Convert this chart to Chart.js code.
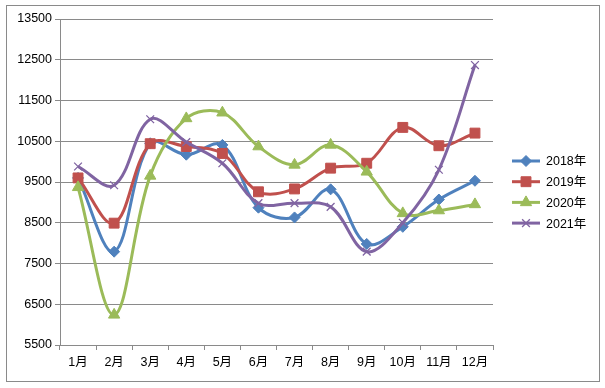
<!DOCTYPE html>
<html>
<head>
<meta charset="utf-8">
<script src="https://cdn.jsdelivr.net/npm/chart.js@4/dist/chart.umd.min.js"></script>
<style>
  html, body { margin: 0; padding: 0; background: #fff; }
  #wrap { width: 605px; height: 388px; }
</style>
</head>
<body>
<div id="wrap"><canvas id="chart" width="605" height="388"></canvas></div>
<script>
const months = ['1月', '2月', '3月', '4月', '5月', '6月', '7月', '8月', '9月', '10月', '11月', '12月'];
const seriesNames = ['2018年', '2019年', '2020年', '2021年'];
const values2018 = [9600, 7790, 10450, 10170, 10410, 8870, 8630, 9320, 7980, 8400, 9070, 9530];
const values2019 = [9600, 8490, 10440, 10370, 10200, 9260, 9330, 9840, 9960, 10840, 10390, 10700];
const values2020 = [9370, 6240, 9650, 11060, 11200, 10370, 9920, 10410, 9750, 8730, 8800, 8950];
const values2021 = [9880, 9420, 11040, 10480, 9960, 8980, 8980, 8890, 7790, 8500, 9800, 12370];
const yTicks = { min: 5500, max: 13500, step: 1000 };

const FONT = "'Liberation Sans', 'Noto Sans CJK SC', sans-serif";
const colors = ['#4F81BD', '#C0504D', '#9BBB59', '#8064A2'];
const markers = ['rectRot', 'rect', 'triangle', 'crossRot'];
const markerSize = [5.5, 7, 6.5, 5.5];

// frame around the whole chart, like the Excel chart border
const framePlugin = {
    id: 'frame',
    beforeDraw(chart) {
        const ctx = chart.ctx;
        ctx.save();
        ctx.fillStyle = '#ffffff';
        ctx.fillRect(0, 0, chart.width, chart.height);
        ctx.strokeStyle = '#8a8a8a';
        ctx.lineWidth = 1;
        ctx.strokeRect(6.5, 5.5, 593, 376);
        ctx.restore();
    }
};

// legend with line + marker samples on the right
const lineLegend = {
    id: 'lineLegend',
    afterDraw(chart) {
        const ctx = chart.ctx;
        ctx.save();
        chart.data.datasets.forEach((ds, i) => {
            const y = 161 + i * 20.7;
            ctx.strokeStyle = ds.borderColor;
            ctx.lineWidth = 3;
            ctx.beginPath();
            ctx.moveTo(512, y);
            ctx.lineTo(540, y);
            ctx.stroke();
            ctx.fillStyle = ds.pointBackgroundColor;
            ctx.strokeStyle = ds.pointBorderColor;
            ctx.lineWidth = ds.pointBorderWidth;
            Chart.helpers.drawPoint(ctx, { pointStyle: ds.pointStyle, radius: ds.pointRadius, rotation: 0, borderWidth: ds.pointBorderWidth }, 526, y);
            ctx.fillStyle = '#000';
            ctx.font = '12.5px ' + FONT;
            ctx.textBaseline = 'middle';
            ctx.textAlign = 'left';
            ctx.fillText(ds.label, 546, y + 1);
        });
        ctx.restore();
    }
};

const allSeries = [values2018, values2019, values2020, values2021];

new Chart(document.getElementById('chart'), {
    type: 'line',
    data: {
        labels: months,
        datasets: allSeries.map((vals, i) => ({
            label: seriesNames[i],
            data: vals,
            borderColor: colors[i],
            backgroundColor: colors[i],
            borderWidth: 3,
            tension: 0.36,
            pointStyle: markers[i],
            pointRadius: markerSize[i],
            pointBackgroundColor: colors[i],
            pointBorderColor: colors[i],
            pointBorderWidth: i === 3 ? 1.3 : 1,
            order: 4 - i
        }))
    },
    options: {
        responsive: false,
        animation: false,
        layout: { padding: { left: 0, right: 112, top: 19, bottom: 0 } },
        plugins: {
            legend: { display: false },
            tooltip: { enabled: false }
        },
        scales: {
            x: {
                offset: true,
                grid: { display: true, drawOnChartArea: false, drawTicks: true, tickLength: 5, color: '#8a8a8a', offset: true },
                border: { color: '#8a8a8a' },
                ticks: { color: '#000', font: { family: FONT, size: 12.5 }, padding: 5, maxRotation: 0, autoSkip: false },
                afterFit(scale) { scale.height = 43; }
            },
            y: {
                min: yTicks.min,
                max: yTicks.max,
                grid: { color: '#8a8a8a', tickLength: 5 },
                border: { color: '#8a8a8a' },
                ticks: {
                    stepSize: yTicks.step,
                    color: '#000',
                    font: { family: FONT, size: 12.5 },
                    padding: 3,
                    callback: (v) => String(v)
                },
                afterFit(scale) { scale.width = 60; }
            }
        }
    },
    plugins: [framePlugin, lineLegend]
});
</script>
</body>
</html>
